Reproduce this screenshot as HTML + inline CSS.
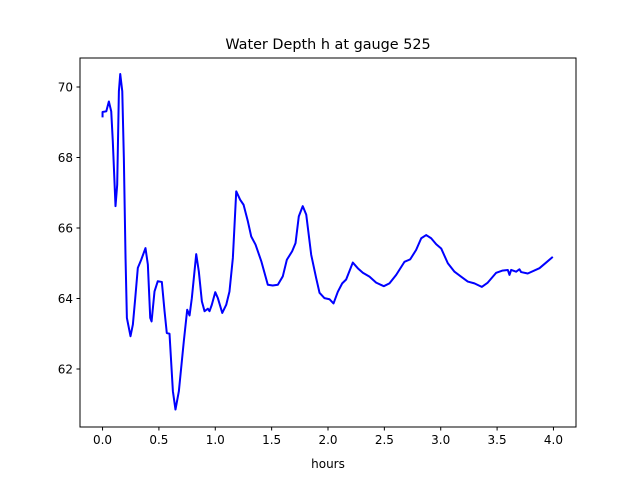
<!DOCTYPE html>
<html><head><meta charset="utf-8"><style>
body{margin:0;background:#fff;}
svg text{font-family:"DejaVu Sans","Liberation Sans",sans-serif;fill:#000;}
</style></head><body>
<svg id="chart" width="640" height="480" xmlns="http://www.w3.org/2000/svg">
<rect width="640" height="480" fill="#fff"/>
<text x="328" y="49" font-size="14.4" text-anchor="middle">Water Depth h at gauge 525</text>
<g id="plot"></g>
<rect x="80" y="58" width="496" height="369" fill="none" stroke="#000" stroke-width="1"/>
<text x="328" y="468" font-size="12" text-anchor="middle">hours</text>
</svg>
<script>
const times=[0.0,0.0,0.033,0.056,0.077,0.091,0.115,0.130,0.145,0.157,0.175,0.189,0.204,0.216,0.248,0.269,0.290,0.313,0.343,0.381,0.402,0.423,0.435,0.461,0.490,0.526,0.550,0.570,0.594,0.624,0.647,0.677,0.721,0.751,0.772,0.792,0.831,0.854,0.881,0.905,0.934,0.949,0.969,1.000,1.023,1.062,1.097,1.126,1.156,1.186,1.221,1.251,1.289,1.319,1.357,1.408,1.466,1.510,1.555,1.599,1.635,1.682,1.712,1.741,1.776,1.807,1.851,1.895,1.925,1.969,2.013,2.049,2.087,2.126,2.161,2.220,2.264,2.309,2.368,2.427,2.495,2.545,2.605,2.678,2.729,2.782,2.827,2.871,2.915,2.960,3.004,3.063,3.122,3.181,3.240,3.299,3.364,3.417,3.492,3.545,3.595,3.610,3.625,3.669,3.698,3.713,3.772,3.876,3.935,3.994];
const depth=[69.14,69.29,69.31,69.59,69.31,68.46,66.62,67.23,69.88,70.37,69.88,67.99,65.15,63.45,62.93,63.26,64.01,64.87,65.10,65.43,64.96,63.45,63.35,64.20,64.49,64.47,63.64,63.02,63.0,61.37,60.85,61.37,62.79,63.68,63.52,64.01,65.26,64.77,63.92,63.64,63.71,63.64,63.82,64.18,64.01,63.59,63.82,64.20,65.15,67.04,66.80,66.66,66.19,65.76,65.53,65.06,64.39,64.37,64.39,64.63,65.10,65.34,65.57,66.33,66.62,66.38,65.24,64.58,64.16,64.01,63.98,63.86,64.19,64.43,64.54,65.02,64.86,64.73,64.62,64.45,64.35,64.43,64.67,65.04,65.11,65.38,65.71,65.80,65.71,65.54,65.42,65.00,64.76,64.62,64.48,64.43,64.33,64.45,64.73,64.79,64.81,64.67,64.81,64.76,64.83,64.75,64.71,64.86,65.02,65.18];
const xTicks=[0.0,0.5,1.0,1.5,2.0,2.5,3.0,3.5,4.0];
const yTicks=[62,64,66,68,70];
const xLabels=["0.0","0.5","1.0","1.5","2.0","2.5","3.0","3.5","4.0"];
const yLabels=["62","64","66","68","70"];

const X0=80,X1=576,Y0=58,Y1=427;
const xmin=-0.2,xmax=4.2,ymin=60.355,ymax=70.823;
const sx=v=>X0+(v-xmin)/(xmax-xmin)*(X1-X0);
const sy=v=>Y1-(v-ymin)/(ymax-ymin)*(Y1-Y0);
const NS="http://www.w3.org/2000/svg";
const g=document.getElementById('plot');
xTicks.forEach((t,i)=>{
  const l=document.createElementNS(NS,'line');
  
  
  l.setAttribute('x1',sx(t));l.setAttribute('x2',sx(t));l.setAttribute('y1',Y1);l.setAttribute('y2',Y1+3.5);l.setAttribute('stroke','#000');
  g.appendChild(l);
  const tx=document.createElementNS(NS,'text');
  
  
  tx.setAttribute('x',sx(t));tx.setAttribute('y',Y1+17);tx.setAttribute('font-size','12');tx.setAttribute('text-anchor','middle');
  tx.textContent=xLabels[i];g.appendChild(tx);
});
yTicks.forEach((t,i)=>{
  const l=document.createElementNS(NS,'line');
  
  
  l.setAttribute('x1',X0-3.5);l.setAttribute('x2',X0);l.setAttribute('y1',sy(t));l.setAttribute('y2',sy(t));l.setAttribute('stroke','#000');
  g.appendChild(l);
  const tx=document.createElementNS(NS,'text');
  
  
  tx.setAttribute('x',X0-7);tx.setAttribute('y',sy(t)+4.5);tx.setAttribute('font-size','12');tx.setAttribute('text-anchor','end');
  tx.textContent=yLabels[i];g.appendChild(tx);
});
const p=document.createElementNS(NS,'polyline');


p.setAttribute('points',times.map((t,i)=>sx(t).toFixed(2)+','+sy(depth[i]).toFixed(2)).join(' '));
p.setAttribute('fill','none');p.setAttribute('stroke','#0000ff');p.setAttribute('stroke-width','2');p.setAttribute('stroke-linejoin','round');
g.appendChild(p);
</script>
</body></html>
